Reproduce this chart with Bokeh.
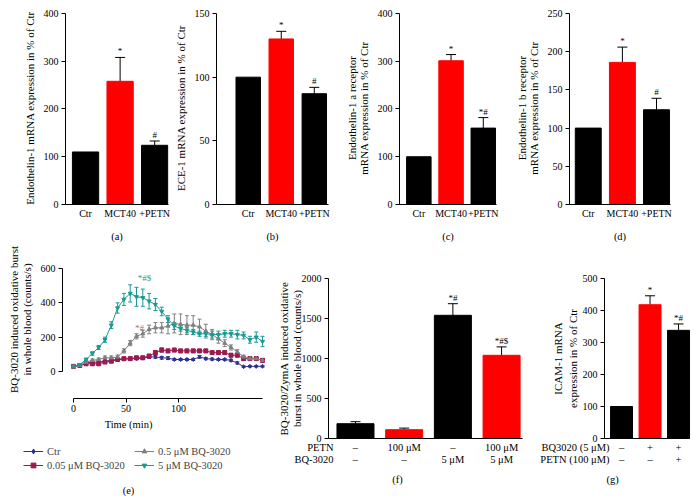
import math
from bokeh.plotting import figure
from bokeh.models import (ColumnDataSource, Whisker, TeeHead, FixedTicker, Range1d,
                          LinearAxis, Legend, LegendItem)
from bokeh.layouts import row, column
from bokeh.core.properties import value
from bokeh.embed import file_html
from bokeh.resources import INLINE

FONT = "Liberation Serif"
BLACK = "#000000"
RED = "#ff0000"

# ---------------- data ----------------
top_groups = ["Ctr", "MCT40", "+PETN"]
top_colors = [BLACK, RED, BLACK]

et1_mean = [110, 258, 124]
et1_err = [0, 50, 9]
et1_sig = ["", "*", "#"]

ece1_mean = [100, 130, 87]
ece1_err = [0, 6, 5]
ece1_sig = ["", "*", "#"]

eta_mean = [100, 301, 160]
eta_err = [0, 13, 22]
eta_sig = ["", "*", "*#"]

etb_mean = [100, 186, 124]
etb_err = [0, 20, 15]
etb_sig = ["", "*", "#"]

time_min = [0, 6, 12, 18, 24, 30, 36, 42, 48, 54, 60, 66, 72, 78, 84, 90, 96, 102,
            108, 114, 120, 126, 132, 138, 144, 150, 156, 162, 168, 174, 180]
ctr = [30, 35, 50, 55, 55, 60, 65, 70, 72, 75, 75, 78, 85, 85, 80, 78, 70, 70, 70, 70,
       85, 75, 72, 70, 70, 65, 50, 28, 30, 30, 30]
ctr_err = [3, 4, 6, 6, 6, 6, 6, 6, 6, 6, 6, 6, 8, 8, 8, 8, 6, 6, 6, 6, 8, 6, 6, 6, 6, 6,
           6, 4, 4, 4, 4]
bq005 = [30, 35, 45, 45, 45, 55, 60, 70, 75, 75, 80, 80, 90, 110, 125, 120, 125, 120, 120,
         120, 120, 120, 110, 110, 110, 95, 95, 75, 75, 75, 65]
bq005_err = [3, 4, 8, 8, 8, 8, 8, 8, 8, 8, 8, 8, 10, 12, 12, 10, 10, 10, 10, 10, 10, 10,
             10, 10, 10, 10, 10, 10, 10, 10, 10]
bq05 = [30, 35, 55, 65, 70, 80, 80, 85, 120, 165, 205, 220, 245, 255, 255, 265, 280, 275,
        270, 270, 260, 235, 215, 190, 165, 140, 115, 85, 75, 75, 65]
bq05_err = [3, 4, 6, 8, 8, 10, 10, 10, 12, 15, 15, 20, 25, 30, 30, 45, 55, 60, 55, 55, 45,
            40, 30, 25, 20, 15, 12, 10, 8, 8, 8]
bq5 = [30, 40, 70, 105, 140, 185, 270, 370, 420, 455, 435, 430, 410, 390, 350, 305, 265,
       250, 240, 230, 220, 220, 215, 215, 220, 220, 215, 210, 185, 200, 175]
bq5_err = [3, 5, 8, 10, 12, 15, 20, 30, 35, 50, 55, 50, 45, 35, 25, 20, 20, 15, 15, 15, 15,
           15, 20, 20, 20, 20, 25, 20, 20, 30, 30]
e_labels = ["Ctr", "0.05 \u03bcM BQ-3020", "0.5 \u03bcM BQ-3020", "5 \u03bcM BQ-3020"]
e_colors = ["#2e3192", "#9b1b4f", "#808080", "#1b9a94"]
e_markers = ["diamond", "square", "triangle", "inverted_triangle"]

f_petn = ["\u2013", "100 \u03bcM", "\u2013", "100 \u03bcM"]
f_bq = ["\u2013", "\u2013", "5 \u03bcM", "5 \u03bcM"]
f_rows = ["PETN", "BQ-3020"]
f_mean = [185, 110, 1540, 1040]
f_err = [25, 20, 145, 105]
f_sig = ["", "", "*#", "*#$"]
f_colors = [BLACK, RED, BLACK, RED]

g_bq = ["\u2013", "+", "+"]
g_petn = ["\u2013", "\u2013", "+"]
g_rows = ["BQ3020 (5 \u03bcM)", "PETN (100 \u03bcM)"]
g_mean = [100, 418, 338]
g_err = [0, 28, 20]
g_sig = ["", "*", "*#"]
g_colors = [BLACK, RED, BLACK]


def style(p):
    p.outline_line_color = None
    p.grid.visible = False
    p.background_fill_color = "white"
    p.border_fill_color = "white"
    for ax in p.axis:
        ax.axis_line_color = BLACK
        ax.axis_line_width = 1
        ax.major_tick_line_color = BLACK
        ax.minor_tick_line_color = None
        ax.major_tick_out = 4
        ax.major_tick_in = 0
        ax.major_label_text_font = FONT
        ax.major_label_text_font_size = "10px"
        ax.major_label_text_color = BLACK
        ax.axis_label_text_font = FONT
        ax.axis_label_text_font_size = "11px"
        ax.axis_label_text_font_style = "normal"
        ax.axis_label_text_color = BLACK
        ax.axis_label_text_line_height = 1.0
        ax.major_label_standoff = 3
        ax.axis_label_standoff = 5


def txt(p, x, y, t, color=BLACK, size="10.5px", align="center", baseline="middle",
        xo=0, yo=0, angle=0.0):
    p.text(x=x, y=y, text=t, text_align=align, text_baseline=baseline,
           text_font=value(FONT), text_font_size=size, text_color=color,
           x_offset=xo, y_offset=yo, angle=angle)


def bars(p, means, errs, colors, sigs, bar_w):
    idx = list(range(1, len(means) + 1))
    p.vbar(x=idx, top=means, width=bar_w, fill_color=colors, line_color=colors)
    ex = [i for i, e in zip(idx, errs) if e > 0]
    lo = [m for m, e in zip(means, errs) if e > 0]
    hi = [m + e for m, e in zip(means, errs) if e > 0]
    src = ColumnDataSource(dict(x=ex, lo=lo, hi=hi))
    p.add_layout(Whisker(source=src, base="x", lower="lo", upper="hi", dimension="height",
                         line_color=BLACK, line_width=1,
                         upper_head=TeeHead(size=10, line_color=BLACK, line_width=1),
                         lower_head=None))
    txt(p, idx, [m + e for m, e in zip(means, errs)], sigs, size="9px",
        baseline="bottom", yo=-1)
    return idx


def top_panel(means, errs, colors, sigs, ylabel, ymax, ystep, plabel,
              width, L, R, xs, xe, bar_w):
    H, T, B, gap = 244, 11, 39, 2
    fh = H - T - B
    yend = ymax * fh / (fh - gap)
    p = figure(width=width, height=H, x_range=Range1d(xs, xe), y_range=Range1d(0, yend),
               output_backend="svg", toolbar_location=None,
               min_border_left=L, min_border_right=R, min_border_top=T, min_border_bottom=B)
    idx = bars(p, means, errs, colors, sigs, bar_w)
    style(p)
    p.yaxis.ticker = FixedTicker(ticks=list(range(0, ymax + 1, ystep)))
    p.yaxis.bounds = (0, ymax)
    p.yaxis.axis_label = ylabel
    p.xaxis.ticker = FixedTicker(ticks=idx)
    p.xaxis.major_label_overrides = {i: t for i, t in zip(idx, top_groups)}
    p.xaxis.major_label_text_font_size = "10px"
    p.xaxis.major_tick_out = 0
    p.xaxis.axis_label = plabel
    p.xaxis.axis_label_text_font_size = "10.5px"
    p.xaxis.axis_label_standoff = 9
    return p


pa = top_panel(et1_mean, et1_err, top_colors, et1_sig,
               "Endothelin-1 mRNA expression in % of Ctr", 400, 100, "(a)",
               171, 65, 3, 0.42, 3.4, 0.76)
pb = top_panel(ece1_mean, ece1_err, top_colors, ece1_sig,
               "ECE-1 mRNA expression in % of Ctr", 150, 50, "(b)",
               171, 40, 14, 0.04, 3.43, 0.74)
pc = top_panel(eta_mean, eta_err, top_colors, eta_sig,
               "Endothelin-1 a receptor\nmRNA expression in % of Ctr", 400, 100, "(c)",
               170, 50, 16, 0.4, 3.41, 0.76)
pd = top_panel(etb_mean, etb_err, top_colors, etb_sig,
               "Endothelin-1 b receptor\nmRNA expression in % of Ctr", 250, 50, "(d)",
               186, 56, 28, 0.45, 3.41, 0.76)

BOT_H = 259
VERT = math.pi / 2


def bottom_fig(width, xr, yr):
    p = figure(width=width, height=BOT_H, x_range=Range1d(*xr), y_range=Range1d(*yr),
               output_backend="svg", toolbar_location=None,
               x_axis_location=None, y_axis_location=None,
               min_border_left=0, min_border_right=0, min_border_top=0, min_border_bottom=0)
    return p


def fixed_axes(p, yloc, xloc, ymax, ystep, xbounds, xticks):
    ya = LinearAxis(fixed_location=yloc, ticker=FixedTicker(ticks=list(range(0, ymax + 1, ystep))),
                    bounds=(0, ymax))
    xa = LinearAxis(fixed_location=xloc, ticker=FixedTicker(ticks=xticks), bounds=xbounds)
    p.add_layout(ya, "left")
    p.add_layout(xa, "below")
    style(p)
    return ya, xa


# ---------------- (f) ----------------
pf = bottom_fig(258, (-0.663, 4.635), (-812.5, 2425))
idx_f = bars(pf, f_mean, f_err, f_colors, f_sig, 0.76)
fixed_axes(pf, 0.4456, 0, 2000, 500, (0.4456, 4.43), [])
txt(pf, [-0.458], [1000], ["BQ-3020/ZymA induced oxidative"], size="11px", angle=VERT)
txt(pf, [-0.191], [1000], ["burst in whole blood (counts/s)"], size="11px", angle=VERT)
txt(pf, idx_f, [-112.5] * len(idx_f), f_petn)
txt(pf, idx_f, [-262.5] * len(idx_f), f_bq)
txt(pf, [0.548, 0.548], [-112.5, -262.5], f_rows, align="right")
txt(pf, [1.862], [-512.5], ["(f)"])

# ---------------- (g) ----------------
pg = bottom_fig(166, (-2.123, 3.70), (-203.1, 606.25))
idx_g = bars(pg, g_mean, g_err, g_colors, g_sig, 0.77)
fixed_axes(pg, 0.4035, 0, 500, 100, (0.4035, 3.4), [])
txt(pg, [-1.246], [250], ["ICAM-1 mRNA"], size="11px", angle=VERT)
txt(pg, [-0.719], [250], ["expression in % of Ctr"], size="11px", angle=VERT)
txt(pg, idx_g, [-28.1] * len(idx_g), g_bq)
txt(pg, idx_g, [-65.6] * len(idx_g), g_petn)
txt(pg, [0.579, 0.579], [-28.1, -65.6], g_rows, align="right")
txt(pg, [0.684], [-128.1], ["(g)"])

# ---------------- (e) time course ----------------
pe = bottom_fig(274, (-69.5, 191.4), (-768.9, 739.8))
series = [(ctr, ctr_err), (bq005, bq005_err), (bq05, bq05_err), (bq5, bq5_err)]
items = []
for (vals, errs), lab, col, mk in zip(series, e_labels, e_colors, e_markers):
    src = ColumnDataSource(dict(t=time_min, v=vals,
                                lo=[v - e for v, e in zip(vals, errs)],
                                hi=[v + e for v, e in zip(vals, errs)]))
    pe.add_layout(Whisker(source=src, base="t", lower="lo", upper="hi", dimension="height",
                          line_color=col, line_width=1,
                          upper_head=TeeHead(size=4, line_color=col, line_width=1),
                          lower_head=TeeHead(size=4, line_color=col, line_width=1)))
    l = pe.line("t", "v", source=src, line_color=col, line_width=1)
    s = pe.scatter("t", "v", source=src, marker=mk, size=4, fill_color=col, line_color=col)
    items.append(LegendItem(label=lab, renderers=[l, s]))

txt(pe, [time_min[10]], [bq5[9] + bq5_err[9]], ["*#$"], color=e_colors[3], size="9px",
    baseline="bottom", xo=8, yo=-2)
txt(pe, [time_min[10]], [bq05[10] + bq05_err[10]], ["*#"], color=e_colors[2], size="9px",
    baseline="bottom", xo=3, yo=-1)
ya_e, xa_e = fixed_axes(pe, -10.48, -157.3, 600, 200, (0, 180), [0, 50, 100])
xa_e.major_label_standoff = 2
txt(pe, [-57.1], [302.9], ["BQ-3020 induced oxidative burst"], size="11px", angle=VERT)
txt(pe, [-43.8], [302.9], ["in whole blood (counts/s)"], size="11px", angle=VERT)
txt(pe, [52.4], [-308.7], ["Time (min)"])
txt(pe, [52.4], [-693.2], ["(e)"])

legend = Legend(items=items, nrows=2, orientation="vertical", location=(23, 32),
                label_text_font=FONT, label_text_font_size="10.5px", glyph_width=20,
                glyph_height=12, label_height=12, label_width=85, label_standoff=4,
                spacing=2, padding=2, margin=0, border_line_color=None,
                background_fill_alpha=0)
pe.add_layout(legend)

layout = column(row(pa, pb, pc, pd), row(pe, pf, pg))
open("out.html", "w").write(file_html(layout, INLINE))
